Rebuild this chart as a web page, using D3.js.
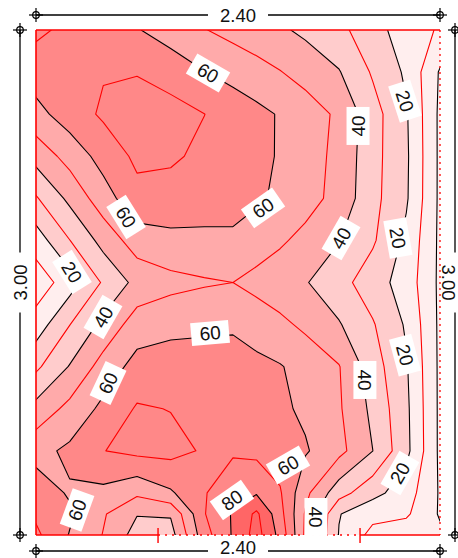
<!DOCTYPE html>
<html>
<head>
<meta charset="utf-8">
<script src="https://cdn.jsdelivr.net/npm/d3@7"></script>
<style>
  html, body { margin: 0; padding: 0; background: #ffffff; }
  svg { display: block; font-family: "Liberation Sans", Arial, sans-serif; }
</style>
</head>
<body>
<svg id="chart" width="458" height="558"></svg>
<script>
// Station coordinates of the result grid (metres from the top-left corner)
const xStations = [0, 0.2, 0.4, 0.6, 0.8, 1.0, 1.17, 1.31, 1.45, 1.6, 1.8, 2.0, 2.2, 2.4];
const yStations = [0, 0.25, 0.5, 0.75, 1.0, 1.25, 1.5, 1.75, 2.0, 2.25, 2.5, 2.75, 2.875, 3.0];

// Result values at the grid stations, one row per y station (top to bottom)
const gridValues = [
  [72, 67.6, 64.1, 60.6, 55.7, 50.4, 47, 44.3, 41.5, 38, 32.5, 24.3, 14.6, 9],
  [64.8, 67, 69.3, 69.5, 65.5, 60.3, 56.6, 53.6, 50.4, 46.3, 40.6, 28.9, 18.4, -1],
  [56.8, 64.9, 71.5, 74.5, 74, 70.1, 66, 62.7, 59.2, 55, 48.2, 34, 21, -2],
  [43.7, 53.7, 63.8, 72, 71.5, 67.8, 64.7, 62.2, 59.3, 54.8, 47.2, 33.5, 21.6, -2],
  [29, 42.4, 55.6, 67, 66, 65, 63.5, 61.5, 58.2, 54.1, 46.5, 33.1, 21.2, -2],
  [14.9, 29.8, 43.5, 55, 57.5, 57.6, 58.3, 54.9, 51.5, 47, 40.4, 31.4, 17.7, -2],
  [4, 15.3, 31.3, 43, 47, 49, 50, 47, 43.9, 40.7, 33.6, 24.6, 15.6, -2],
  [14.6, 29.8, 42.7, 55, 57.1, 57.9, 58.7, 55.6, 52.3, 48, 40.8, 30.9, 18.8, -2],
  [28, 40.6, 54.2, 63.5, 65, 65, 64, 62.5, 60.6, 56.6, 50.5, 34.6, 21, -2],
  [43.3, 52.9, 62.4, 71, 69.7, 66, 65, 63.5, 61.8, 58.3, 51.2, 37.7, 22.1, -2],
  [56.8, 62, 69.8, 72.5, 73, 69, 68.5, 67.5, 65, 61, 53, 40.1, 22.7, -2],
  [64.9, 59, 57.5, 52, 58.7, 69.2, 77.5, 79, 71, 52.6, 34, 23.2, 14.7, -1],
  [68.3, 61.5, 51, 40.5, 41, 69.5, 81, 92, 73.5, 49, 20.5, 13, 11.5, -1],
  [72, 59.5, 49.6, 36, 36, 66, 81, 94, 77, 48.2, 19.5, 7, 4, 2]
];

// Contour levels; every second level is a black line, the others red
const levels = [0, 10, 20, 30, 40, 50, 60, 70, 80, 90];
const bandFloors = [20, 40, 60, 80];
const bandColors = ["#ffeeee", "#ffcccc", "#ffaaaa", "#ff8888", "#ff6666"];

// Contour value labels: text, anchor point in metres, rotation in degrees
const labelTexts  = ["60", "60", "60", "40", "20", "20", "40", "20", "40", "60", "60", "40", "20", "20", "60", "80", "40", "60"];
const labelX      = [1.022, 0.535, 1.349, 1.913, 2.192, 2.150, 1.812, 0.214, 0.398, 1.034, 0.428, 1.954, 2.192, 2.162, 1.497, 1.164, 1.663, 0.244];
const labelY      = [0.255, 1.111, 1.057, 0.570, 0.422, 1.236, 1.236, 1.438, 1.705, 1.800, 2.097, 2.079, 1.931, 2.632, 2.584, 2.792, 2.893, 2.851];
const labelAngles = [30, 58, -35, -90, 72, 80, -60, 58, -60, -5, -65, 90, 75, -60, -30, -35, 90, -70];

// Overall dimensions and the free (unsupported) part of the bottom edge
const spanX = 2.40, spanY = 3.00;
const dimTexts = ["2.40", "3.00"];
const freeBottom = [0.725, 1.925];

const svg = d3.select("#chart");
const plate = { left: 36, top: 30, width: 404, height: 505 };

const xScale = d3.scaleLinear().domain([0, spanX]).range([plate.left, plate.left + plate.width]);
const yScale = d3.scaleLinear().domain([0, spanY]).range([plate.top, plate.top + plate.height]);

// grid index space (node i sits at i + 0.5) -> screen
const gx = d3.scaleLinear().domain(xStations.map((d, i) => i + 0.5)).range(xStations.map(xScale));
const gy = d3.scaleLinear().domain(yStations.map((d, i) => i + 0.5)).range(yStations.map(yScale));
const toScreen = d3.geoTransform({ point(x, y) { this.stream.point(gx(x), gy(y)); } });
const path = d3.geoPath(toScreen);

const contours = d3.contours()
  .size([xStations.length, yStations.length])
  .thresholds(levels)(gridValues.flat());

svg.append("defs").append("clipPath").attr("id", "plateClip")
  .append("rect")
  .attr("x", plate.left).attr("y", plate.top)
  .attr("width", plate.width).attr("height", plate.height);

const body = svg.append("g").attr("clip-path", "url(#plateClip)");

// colour bands
body.append("rect")
  .attr("x", plate.left).attr("y", plate.top)
  .attr("width", plate.width).attr("height", plate.height)
  .attr("fill", bandColors[0]);

body.selectAll("path.band")
  .data(contours.filter(c => bandFloors.includes(c.value)))
  .join("path")
  .attr("class", "band")
  .attr("d", path)
  .attr("fill", c => bandColors[bandFloors.indexOf(c.value) + 1])
  .attr("stroke", "none");

// iso-lines
body.selectAll("path.iso")
  .data(contours)
  .join("path")
  .attr("class", "iso")
  .attr("d", path)
  .attr("fill", "none")
  .attr("stroke", c => (c.value % 20 === 0 ? "#000000" : "#ff0000"))
  .attr("stroke-width", 1.1)
  .attr("stroke-linejoin", "round");

// plate edges: supported edges solid, free edges dotted
const edges = svg.append("g").attr("stroke", "#ff0000").attr("fill", "none");
edges.append("line").attr("x1", xScale(0)).attr("x2", xScale(spanX)).attr("y1", yScale(0)).attr("y2", yScale(0)).attr("stroke-width", 1.6);
edges.append("line").attr("x1", xScale(0)).attr("x2", xScale(0)).attr("y1", yScale(0)).attr("y2", yScale(spanY)).attr("stroke-width", 1.6);
edges.append("line").attr("x1", xScale(spanX)).attr("x2", xScale(spanX)).attr("y1", yScale(0)).attr("y2", yScale(spanY))
  .attr("stroke-width", 1.3).attr("stroke-dasharray", "2,4");
edges.append("line").attr("x1", xScale(0)).attr("x2", xScale(freeBottom[0])).attr("y1", yScale(spanY)).attr("y2", yScale(spanY)).attr("stroke-width", 1.6);
edges.append("line").attr("x1", xScale(freeBottom[0])).attr("x2", xScale(freeBottom[1])).attr("y1", yScale(spanY)).attr("y2", yScale(spanY))
  .attr("stroke-width", 1.3).attr("stroke-dasharray", "2,5");
edges.append("line").attr("x1", xScale(freeBottom[1])).attr("x2", xScale(spanX)).attr("y1", yScale(spanY)).attr("y2", yScale(spanY)).attr("stroke-width", 1.6);
freeBottom.forEach(m => {
  edges.append("line")
    .attr("x1", xScale(m)).attr("x2", xScale(m))
    .attr("y1", yScale(spanY) - 7).attr("y2", yScale(spanY) + 8)
    .attr("stroke-width", 1.4);
});

// contour value labels
const labels = svg.append("g");
labelTexts.forEach((t, i) => {
  const g = labels.append("g")
    .attr("transform", `translate(${xScale(labelX[i])},${yScale(labelY[i])}) rotate(${labelAngles[i]})`);
  g.append("rect").attr("x", -19).attr("y", -11.5).attr("width", 38).attr("height", 23).attr("fill", "#ffffff");
  g.append("text").attr("text-anchor", "middle").attr("dy", "0.36em")
    .attr("font-size", 19).attr("fill", "#111111").text(t);
});

// dimension lines
const dims = svg.append("g").attr("stroke", "#000000").attr("fill", "none");

function crosshair(x, y) {
  dims.append("circle").attr("cx", x).attr("cy", y).attr("r", 3.3).attr("stroke-width", 1.2);
  dims.append("line").attr("x1", x - 7).attr("x2", x + 7).attr("y1", y).attr("y2", y).attr("stroke-width", 1.2);
  dims.append("line").attr("x1", x).attr("x2", x).attr("y1", y - 7).attr("y2", y + 7).attr("stroke-width", 1.2);
}

function horizontalDim(y, textY, label) {
  const x0 = xScale(0), x1 = xScale(spanX), xm = (x0 + x1) / 2;
  const txt = svg.append("text").attr("x", xm).attr("y", textY).attr("dy", "0.36em")
    .attr("text-anchor", "middle").attr("font-size", 18.5).attr("fill", "#111111").text(label);
  const half = txt.node().getComputedTextLength() / 2 + 12;
  dims.append("line").attr("x1", x0).attr("x2", xm - half).attr("y1", y).attr("y2", y).attr("stroke-width", 1.3);
  dims.append("line").attr("x1", xm + half).attr("x2", x1).attr("y1", y).attr("y2", y).attr("stroke-width", 1.3);
  crosshair(x0, y);
  crosshair(x1, y);
}

function verticalDim(x, textX, label, angle) {
  const y0 = yScale(0), y1 = yScale(spanY), ym = (y0 + y1) / 2;
  const txt = svg.append("text")
    .attr("transform", `translate(${textX},${ym}) rotate(${angle})`)
    .attr("dy", "0.36em").attr("text-anchor", "middle")
    .attr("font-size", 18.5).attr("fill", "#111111").text(label);
  const half = txt.node().getComputedTextLength() / 2 + 12;
  dims.append("line").attr("x1", x).attr("x2", x).attr("y1", y0).attr("y2", ym - half).attr("stroke-width", 1.3);
  dims.append("line").attr("x1", x).attr("x2", x).attr("y1", ym + half).attr("y2", y1).attr("stroke-width", 1.3);
  crosshair(x, y0);
  crosshair(x, y1);
}

horizontalDim(15, 15, dimTexts[0]);
horizontalDim(551, 547, dimTexts[0]);
verticalDim(20, 20, dimTexts[1], -90);
verticalDim(455, 449, dimTexts[1], 90);
</script>
</body>
</html>
